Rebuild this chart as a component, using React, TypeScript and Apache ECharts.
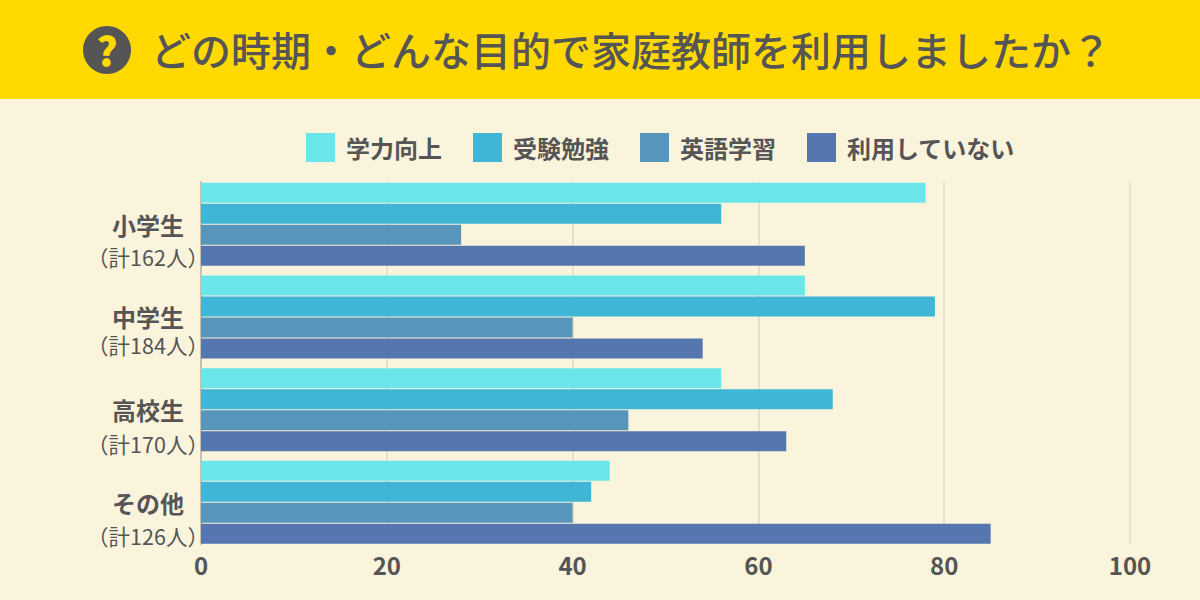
import React, { useEffect, useRef } from "react";
import * as echarts from "echarts";

const titleText = "どの時期・どんな目的で家庭教師を利用しましたか？";
const categories = ["小学生", "中学生", "高校生", "その他"];
const subLabels = ["（計162人）", "（計184人）", "（計170人）", "（計126人）"];
const seriesNames = ["学力向上", "受験勉強", "英語学習", "利用していない"];
const gakuryoku = [78, 65, 56, 44];
const juken = [56, 79, 68, 42];
const eigo = [28, 40, 46, 40];
const none = [65, 54, 63, 85];
const seriesValues = [gakuryoku, juken, eigo, none];
const colors = ["#6AE6EA", "#3FB6D6", "#5895BA", "#5676AF"];
const subLabelY = [256, 344, 443, 535];

const FONT = '"Noto Sans CJK JP", "Noto Sans", sans-serif';
const INK = "#555555";

export default function App() {
  const ref = useRef<HTMLDivElement>(null);
  useEffect(() => {
    const chart = echarts.init(ref.current!, null, { renderer: "svg" });
    chart.setOption({
      animation: false,
      backgroundColor: "#FBF4DD",
      textStyle: { fontFamily: FONT },
      grid: [
        { left: 201, width: 929, top: 178, height: 370.6 },
        { left: 201, width: 929, top: 182, height: 362 },
      ],
      legend: {
        left: 301,
        top: 128,
        icon: "rect",
        itemWidth: 29,
        itemHeight: 29,
        itemGap: 31,
        data: seriesNames,
        textStyle: { fontFamily: FONT, fontSize: 24, fontWeight: 700, color: INK, padding: [0, 0, 4, 6] },
      },
      xAxis: [
        { gridIndex: 0, type: "value", min: 0, max: 100, interval: 20, show: false },
        {
          gridIndex: 1,
          type: "value",
          min: 0,
          max: 100,
          interval: 20,
          axisLine: { show: false },
          axisTick: { show: false },
          axisLabel: { fontFamily: FONT, fontSize: 24, fontWeight: 700, color: INK, margin: 8 },
          splitLine: { show: true, lineStyle: { color: "#E0DAC4", width: 1.5 } },
        },
      ],
      yAxis: [
        {
          gridIndex: 0,
          type: "category",
          inverse: true,
          data: categories,
          axisLine: { show: false },
          axisTick: { show: false },
          axisLabel: { fontFamily: FONT, fontSize: 24, fontWeight: 700, color: INK, margin: 17, padding: [0, 0, 9, 0] },
        },
        {
          gridIndex: 1,
          type: "value",
          min: 0,
          max: 1,
          axisLabel: { show: false },
          axisTick: { show: false },
          splitLine: { show: false },
          axisLine: { show: true, lineStyle: { color: "#C9C1AE", width: 2 } },
        },
      ],
      series: [
        ...seriesNames.map((name, i) => ({
          name,
          type: "bar",
          xAxisIndex: 0,
          yAxisIndex: 0,
          data: seriesValues[i],
          barWidth: 20,
          barGap: "5%",
          itemStyle: { color: colors[i] },
          z: 5,
        })),
        { type: "scatter", xAxisIndex: 1, yAxisIndex: 1, data: [], silent: true },
      ],
      graphic: [
        { type: "rect", shape: { x: 0, y: 0, width: 1200, height: 99 }, style: { fill: "#FFD900" }, z: 10 },
        { type: "circle", shape: { cx: 107, cy: 50, r: 24 }, style: { fill: INK }, z: 11 },
        {
          type: "text",
          x: 107,
          y: 49,
          z: 12,
          style: { text: "?", fill: "#FFD900", font: `900 40px ${FONT}`, textAlign: "center", textVerticalAlign: "middle" },
        },
        {
          type: "text",
          x: 151,
          y: 49,
          z: 12,
          style: { text: titleText, fill: INK, font: `500 40px ${FONT}`, textAlign: "left", textVerticalAlign: "middle" },
        },
        ...subLabels.map((t, i) => ({
          type: "text",
          x: 148,
          y: subLabelY[i],
          z: 12,
          style: { text: t, fill: INK, font: `400 21.5px ${FONT}`, textAlign: "center", textVerticalAlign: "middle" },
        })),
      ],
    });
    return () => chart.dispose();
  }, []);
  return <div ref={ref} style={{ position: "absolute", left: 0, top: 0, width: 1200, height: 600 }} />;
}
